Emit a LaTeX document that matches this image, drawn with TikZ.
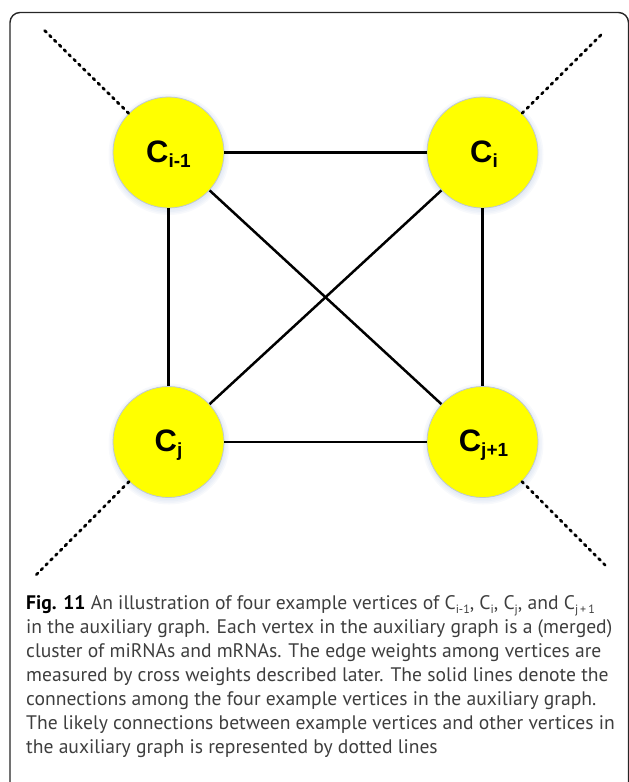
\documentclass[tikz,border=0pt]{standalone}
\usepackage{fontspec}
\setmainfont{PT Sans}
\newfontfamily\vlabfont{Liberation Sans}
\usetikzlibrary{calc,backgrounds}

\definecolor{vfill}{RGB}{255,255,0}
\definecolor{vedge}{RGB}{190,200,212}
\definecolor{glow}{RGB}{150,175,215}
\definecolor{captext}{RGB}{62,62,62}

% subscript inside a vertex label
\newcommand\vsub[1]{\raisebox{-5pt}{\fontsize{19}{19}\selectfont #1}}
% subscript inside the caption
\newcommand\csub[1]{\raisebox{-0.24em}{\fontsize{12}{12}\selectfont #1}}

\tikzset{
  vertex/.style={circle, fill=vfill, draw=vedge, line width=0.8pt,
    minimum size=111pt, inner sep=0pt},
  solidlink/.style={line width=2.5pt, draw=black},
  dotlink/.style={line width=2.8pt, draw=black, line cap=round,
    dash pattern=on 2.2pt off 4.6pt},
  vlabel/.style={anchor=base, inner sep=0pt,
    font=\vlabfont\bfseries\fontsize{31}{31}\selectfont},
  capline/.style={anchor=base west, inner sep=0pt, text=captext,
    font=\fontsize{19.6}{24}\selectfont},
  frame/.style={line width=1.4pt, draw=black!85, rounded corners=10pt},
  halo/.style={fill=glow, opacity=0.07},
}

\begin{document}
\begin{tikzpicture}[x=1pt, y=-1pt]
\useasboundingbox (0,0) rectangle (629,782);

% outer frame
\draw[frame] (10,12.5) rectangle (628.5,792);

% vertex positions
\coordinate (pa) at (168.5,152.5);
\coordinate (pb) at (482.5,152.5);
\coordinate (pc) at (168.5,442);
\coordinate (pd) at (482.5,442);

% soft halo under each vertex
\begin{scope}[on background layer]
  \foreach \p in {pa,pb,pc,pd}
    \foreach \r in {56,57.5,59,60.5}
      \fill[halo] ($(\p)+(0.5,2)$) circle (\r);
\end{scope}

% vertices
\node[vertex] (a) at (pa) {};
\node[vertex] (b) at (pb) {};
\node[vertex] (c) at (pc) {};
\node[vertex] (d) at (pd) {};

\node[vlabel] (la) at ($(a.center)+(0,9.5)$) {C\vsub{i-1}};
\node[vlabel] (lb) at ($(b.center)+(1.5,9.5)$) {C\vsub{i}};
\node[vlabel] (lc) at ($(c.center)+(0,9.5)$) {C\vsub{j}};
\node[vlabel] (ld) at ($(d.center)+(1,9.5)$) {C\vsub{j+1}};

% connections among the four vertices
\draw[solidlink] (a) -- (b);
\draw[solidlink] (a) -- (c);
\draw[solidlink] (a) -- (d);
\draw[solidlink] (b) -- (c);
\draw[solidlink] (b) -- (d);
\draw[solidlink] (c) -- (d);

% connections to other vertices
\coordinate (ta) at (42,28);
\coordinate (tb) at (604,32);
\coordinate (tc) at (36,575);
\coordinate (td) at (608,568);
\draw[dotlink] (a) -- (ta);
\draw[dotlink] (b) -- (tb);
\draw[dotlink] (c) -- (tc);
\draw[dotlink] (d) -- (td);

% caption
\node[capline] (cap1) at (26,609) {{\color{black}\bfseries Fig. 11} An illustration of four example vertices of C\csub{i-1}, C\csub{i}, C\csub{j}, and C\csub{j\,+\,1}};
\node[capline] (cap2) at (26,633) {in the auxiliary graph. Each vertex in the auxiliary graph is a (merged)};
\node[capline] (cap3) at (26,657) {cluster of miRNAs and mRNAs. The edge weights among vertices are};
\node[capline] (cap4) at (26,681) {measured by cross weights described later. The solid lines denote the};
\node[capline] (cap5) at (26,705) {connections among the four example vertices in the auxiliary graph.};
\node[capline] (cap6) at (26,729) {The likely connections between example vertices and other vertices in};
\node[capline] (cap7) at (26,753) {the auxiliary graph is represented by dotted lines};
\end{tikzpicture}
\end{document}
